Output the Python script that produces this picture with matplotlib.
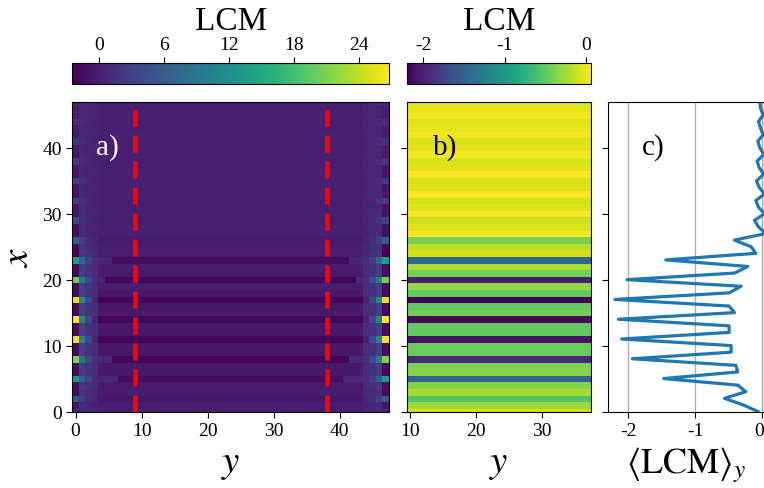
import numpy as np
import matplotlib
matplotlib.use("Agg")
import matplotlib.pyplot as plt
import matplotlib.transforms as mtransforms

plt.rcParams["font.family"] = ["Liberation Serif", "DejaVu Serif"]
plt.rcParams["mathtext.fontset"] = "stix"
plt.rcParams["axes.unicode_minus"] = False

n_y = 48
y_cut = [9, 38]  # panel b shows the columns strictly between these two

# LCM along x inside the window (identical for every column there)
lcm_profile = [
    -0.06, -0.28, -0.56, -0.24, -0.36, -1.47, -0.36, -0.39, -1.94, -0.46,
    -0.46, -2.10, -0.49, -0.49, -2.15, -0.41, -0.49, -2.20, -0.49, -0.31,
    -2.02, -0.41, -0.21, -1.44, -0.09, -0.16, -0.41, 0.06, -0.05, -0.11,
    0.04, -0.05, -0.09, 0.04, -0.04, -0.08, 0.03, -0.04, -0.07, 0.03,
    -0.03, -0.06, 0.02, -0.02, -0.05, 0.02, -0.02, -0.03,
]

# border columns y = 0, 1, 2, 3 (the right border is the mirror image)
edge_col0 = [
    0.5, -1.0, 5.5, -1.8, -1.5, 13.5, -1.8, -1.5, 21.0, -1.8,
    -1.5, 26.0, -1.8, -1.5, 26.8, -1.8, -1.5, 25.5, -1.8, -1.5,
    20.5, -1.8, -1.5, 14.0, -2.5, -1.6, 5.8, -1.5, -1.2, 3.2,
    -1.2, -1.0, 2.8, -1.0, -0.8, 2.4, -0.8, -0.6, 2.1, -0.6,
    -0.4, 1.8, -0.4, -0.2, 1.5, -0.2, 0.0, 1.2,
]
edge_col1 = [
    0.8, 1.2, 3.2, 1.6, 2.4, 6.5, 2.6, 2.8, 9.0, 3.0,
    3.0, 10.5, 3.0, 3.0, 11.0, 3.0, 3.0, 11.0, 3.0, 3.0,
    9.5, 2.8, 2.6, 7.0, 2.0, 1.6, 3.0, 1.2, 1.0, 1.8,
    1.0, 0.9, 1.6, 0.9, 0.8, 1.4, 0.8, 0.7, 1.3, 0.7,
    0.6, 1.2, 0.6, 0.5, 1.1, 0.5, 0.5, 1.0,
]
edge_col2 = [
    0.5, 0.6, 1.2, 1.0, 1.6, 3.0, 1.8, 1.8, 3.8, 1.8,
    1.8, 3.8, 1.8, 1.8, 3.8, 1.8, 1.8, 3.8, 1.8, 1.8,
    3.8, 1.8, 1.8, 3.0, 1.4, 1.0, 1.2, 0.6, 0.5, 0.8,
    0.5, 0.5, 0.8, 0.5, 0.5, 0.7, 0.5, 0.5, 0.7, 0.5,
    0.5, 0.6, 0.5, 0.5, 0.6, 0.5, 0.5, 0.6,
]
edge_col3 = [
    0.3, 0.4, 0.6, 0.8, 1.2, 1.2, 1.2, 1.2, 1.5, 1.2,
    1.2, 0.4, 1.2, 1.2, 0.4, 1.2, 1.2, 0.4, 1.2, 1.2,
    1.5, 1.2, 1.2, 1.2, 0.8, 0.6, 0.5, 0.3, 0.3, 0.4,
    0.3, 0.3, 0.4, 0.3, 0.3, 0.4, 0.3, 0.3, 0.4, 0.3,
    0.3, 0.3, 0.3, 0.3, 0.3, 0.3, 0.3, 0.3,
]
# column where the dark inner stripe of a row begins
stripe_start = {5: 7, 8: 6, 11: 4, 14: 4, 17: 4, 20: 5, 23: 6}
stripe_fill = 0.8

profile = np.array(lcm_profile)
x = np.arange(len(profile))

full = np.tile(profile[:, None], (1, n_y))
for r, c in stripe_start.items():
    full[r, 4:c] = stripe_fill
    full[r, n_y - c:n_y - 4] = stripe_fill
edges = np.column_stack([edge_col0, edge_col1, edge_col2, edge_col3])
full[:, :4] = edges
full[:, -4:] = edges[:, ::-1]

window = full[:, y_cut[0] + 1:y_cut[1]]
mean_y = window.mean(axis=1)

W, H = 764, 489
fig = plt.figure(figsize=(W / 100, H / 100), dpi=100)

def box(l, r, t, b):
    return [l / W, 1 - b / H, (r - l) / W, (b - t) / H]

ax_a = fig.add_axes(box(72.3, 389.3, 102.7, 412.5))
ax_b = fig.add_axes(box(406.7, 591.0, 102.7, 412.5))
ax_c = fig.add_axes(box(608.3, 764.5, 102.7, 412.5))
cax_a = fig.add_axes(box(72.3, 389.3, 64.0, 85.3))
cax_b = fig.add_axes(box(406.7, 591.0, 64.0, 85.3))

tick_fs = 14
label_fs = 28

im_a = ax_a.imshow(full, origin="lower", aspect="auto", cmap="viridis",
                   interpolation="nearest", extent=[-0.5, n_y - 0.5, -0.5, len(profile) - 0.5])
for yc in y_cut:
    ax_a.axvline(yc, color="red", lw=3.4, dashes=(3.6, 1.9))
ax_a.set_ylim(0, 47)
ax_a.set_xticks([0, 10, 20, 30, 40])
ax_a.set_yticks([0, 10, 20, 30, 40])
ax_a.set_xlabel("$y$", fontsize=label_fs)
ax_a.set_ylabel("$x$", fontsize=label_fs)
ax_a.text(0.11, 0.855, "a)", color="white", fontsize=21, transform=ax_a.transAxes,
          ha="center", va="center")

im_b = ax_b.imshow(window, origin="lower", aspect="auto", cmap="viridis",
                   interpolation="nearest",
                   extent=[y_cut[0] + 0.5, y_cut[1] - 0.5, -0.5, len(profile) - 0.5])
ax_b.set_ylim(0, 47)
ax_b.set_xticks([10, 20, 30])
ax_b.set_yticks([0, 10, 20, 30, 40])
ax_b.tick_params(labelleft=False)
ax_b.set_xlabel("$y$", fontsize=label_fs)
ax_b.text(0.21, 0.855, "b)", color="black", fontsize=21, transform=ax_b.transAxes,
          ha="center", va="center")

ax_c.plot(mean_y, x, color="#1f77b4", lw=2.3)
ax_c.set_xlim(-2.3, 0.04)
ax_c.set_ylim(0, 47)
ax_c.set_xticks([-2, -1, 0])
ax_c.set_yticks([0, 10, 20, 30, 40])
ax_c.tick_params(labelleft=False)
ax_c.grid(axis="x", color="#b0b0b0", lw=1)
ax_c.set_xlabel(r"$\langle \mathrm{LCM} \rangle_y$", fontsize=26)
ax_c.text(0.29, 0.855, "c)", color="black", fontsize=21, transform=ax_c.transAxes,
          ha="center", va="center")

for ax in (ax_a, ax_b, ax_c):
    ax.tick_params(labelsize=tick_fs, length=4)

# nudge the "0" label of panel c so it stays inside the figure
last = ax_c.get_xticklabels()[-1]
last.set_transform(last.get_transform() +
                   mtransforms.ScaledTranslation(-2 / 72, 0, fig.dpi_scale_trans))

for im, cax, ticks in ((im_a, cax_a, [0, 6, 12, 18, 24]), (im_b, cax_b, [-2, -1, 0])):
    cb = fig.colorbar(im, cax=cax, orientation="horizontal")
    cb.set_ticks(ticks)
    cax.xaxis.set_ticks_position("top")
    cax.xaxis.set_label_position("top")
    cax.tick_params(labelsize=tick_fs, length=4)
    cb.set_label("LCM", fontsize=24, labelpad=5)

fig.savefig("out.png", dpi=100)
